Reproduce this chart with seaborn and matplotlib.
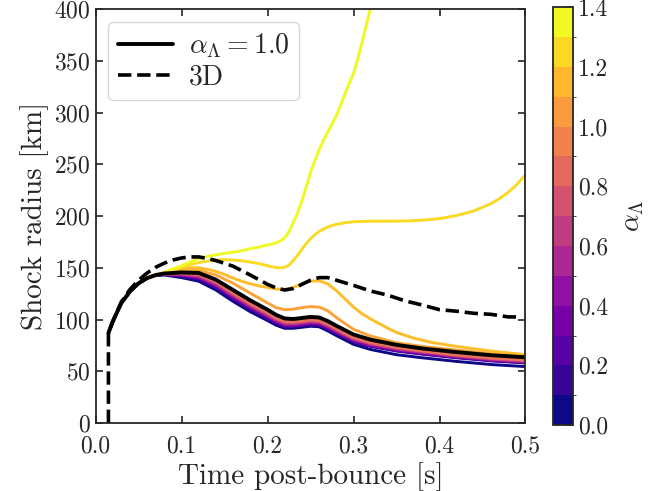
import numpy as np
import pandas as pd
import matplotlib
matplotlib.use('Agg')
import matplotlib.pyplot as plt
import seaborn as sns
from matplotlib.colors import ListedColormap, BoundaryNorm
from matplotlib.cm import ScalarMappable

#################### DATA ####################
# time grid [s] shared by most of the 1D runs
t_grid = [0.015, 0.02, 0.03, 0.04, 0.05, 0.06, 0.07, 0.08, 0.10, 0.12,
          0.14, 0.16, 0.18, 0.20, 0.21, 0.22, 0.23, 0.24, 0.25, 0.26,
          0.27, 0.28, 0.30, 0.32, 0.35, 0.38, 0.42, 0.46, 0.48, 0.50]

# shock radius [km] per alpha_Lambda
r_00 = [87, 98, 116, 127, 135, 140, 142.5, 143, 140.5, 137, 128.5, 117.5, 107.5, 99, 94.5, 91.5, 91.5, 92.5, 93.5, 93, 89, 84.5, 76, 71, 66, 63, 59.5, 56.5, 55.5, 54.5]
r_01 = [87, 98, 116, 127, 135, 140, 143, 143.5, 142, 139, 131, 120, 110, 101, 96.5, 93, 93, 94, 95, 94.5, 91, 86.5, 78.5, 74, 69.5, 66.5, 63, 60, 59, 58]
r_02 = [87, 98, 116, 127, 135, 140, 143, 143.5, 142.4, 139.6, 131.8, 120.8, 110.8, 101.8, 97.2, 93.7, 93.6, 94.6, 95.6, 95.1, 91.6, 87.1, 79.1, 74.5, 70, 66.9, 63.4, 60.4, 59.4, 58.4]
r_03 = [87, 98, 116, 127, 135, 140, 143, 143.5, 142.8, 140.3, 132.5, 121.5, 111.5, 102.5, 97.9, 94.4, 94.3, 95.3, 96.3, 95.8, 92.3, 87.8, 79.6, 75, 70.5, 67.4, 63.8, 60.8, 59.8, 58.8]
r_04 = [87, 98, 116, 127, 135, 140, 143, 144, 143.1, 140.9, 133.2, 122.3, 112.3, 103.3, 98.6, 95.1, 94.9, 95.9, 96.9, 96.4, 92.9, 88.4, 80.2, 75.5, 71, 67.8, 64.1, 61.1, 60.1, 59.1]
r_05 = [87, 98, 116, 127, 135, 140, 143, 144, 143.5, 141.5, 134, 123, 113, 104, 99.3, 95.8, 95.5, 96.5, 97.5, 97, 93.5, 89, 80.8, 76, 71.5, 68.3, 64.5, 61.5, 60.5, 59.5]
r_06 = [87, 98, 116, 127, 135, 140, 143, 144, 143.9, 142.1, 134.8, 123.8, 113.8, 104.8, 99.9, 96.4, 96.1, 97.1, 98.1, 97.6, 94.1, 89.6, 81.3, 76.5, 72, 68.7, 64.9, 61.9, 60.9, 59.9]
r_07 = [87, 98, 116, 127, 135, 140, 143, 144, 144.3, 142.8, 135.5, 124.5, 114.5, 105.5, 100.6, 97.1, 96.8, 97.8, 98.8, 98.3, 94.8, 90.3, 81.9, 77, 72.5, 69.1, 65.3, 62.3, 61.3, 60.3]
r_08 = [87, 98, 116, 127, 135, 140, 143, 144.5, 144.6, 143.4, 136.2, 125.3, 115.3, 106.3, 101.3, 97.8, 97.4, 98.4, 99.4, 98.9, 95.4, 90.9, 82.4, 77.5, 73, 69.6, 65.6, 62.6, 61.6, 60.6]
r_09 = [87, 98, 116, 127, 135, 140, 143, 144.5, 145, 144, 137, 126, 116, 107, 102, 98.5, 98, 99, 100, 99.5, 96, 91.5, 83, 78, 73.5, 70, 66, 63, 62, 61]
r_10 = [87, 98, 116, 127, 135, 140, 143, 144.5, 145.5, 145, 138.5, 128.5, 118.5, 109.5, 104.5, 101, 100.5, 101.5, 102.5, 102, 98.5, 94, 85.5, 80.5, 75.5, 72, 68.5, 65.5, 64.5, 63.5]
r_11 = [87, 98, 116, 127, 135, 140, 143, 145, 147, 147.5, 143, 135, 125.5, 116, 111.5, 109.5, 110, 111.5, 112.5, 112, 108.5, 102, 90.5, 84, 77.5, 74, 70.5, 67, 65.5, 64.5]

# the three runs that take off get their own, finer sampling
t_12 = [0.015, 0.02, 0.03, 0.04, 0.05, 0.06, 0.07, 0.08, 0.09, 0.10, 0.11, 0.12, 0.13, 0.14,
        0.15, 0.16, 0.17, 0.18, 0.19, 0.20, 0.21, 0.22, 0.23, 0.24, 0.25, 0.26, 0.27, 0.28,
        0.29, 0.30, 0.31, 0.32, 0.33, 0.34, 0.35, 0.37, 0.39, 0.42, 0.46, 0.50]
r_12 = [87, 98, 116, 127, 135, 140, 143, 145.5, 147.5, 149, 150, 150, 148.5, 146.5,
        143.5, 140, 137, 134.5, 132.5, 131, 129.5, 129, 131, 134.5, 137, 137.5, 134.5, 128,
        120, 112, 105.5, 100.5, 96, 91.5, 87.5, 82, 78, 74, 69.5, 66]

t_13 = [0.015, 0.02, 0.03, 0.04, 0.05, 0.06, 0.07, 0.08, 0.09, 0.10, 0.11, 0.12, 0.13, 0.14,
        0.15, 0.16, 0.17, 0.18, 0.19, 0.20, 0.205, 0.21, 0.215, 0.22, 0.225, 0.23, 0.235,
        0.24, 0.245, 0.25, 0.255, 0.26, 0.27, 0.28, 0.29, 0.30, 0.32, 0.34, 0.36, 0.38, 0.40,
        0.42, 0.44, 0.46, 0.47, 0.48, 0.49, 0.50]
r_13 = [87, 98, 116, 127, 135, 140, 143, 145, 148, 150.5, 153, 155, 156.5, 157.5,
        157.8, 157.5, 156.8, 155.5, 154, 152, 151, 150.3, 150, 150.5, 152.5, 157, 162,
        168, 173.5, 178, 182, 185, 189.5, 192, 193.5, 194.5, 195, 195, 195.2, 196, 197.5,
        200.5, 205, 212, 217, 223, 230.5, 240]

t_14 = [0.015, 0.02, 0.03, 0.04, 0.05, 0.06, 0.07, 0.08, 0.09, 0.10, 0.11, 0.12, 0.13, 0.14,
        0.15, 0.16, 0.17, 0.18, 0.19, 0.20, 0.205, 0.21, 0.215, 0.22, 0.225, 0.23, 0.235,
        0.24, 0.245, 0.25, 0.255, 0.26, 0.265, 0.27, 0.275, 0.28, 0.285, 0.29, 0.295, 0.30,
        0.305, 0.31, 0.315, 0.32, 0.325]
r_14 = [87, 98, 116, 127, 135, 140, 143, 145.5, 149, 152, 155.5, 159, 161, 162.5,
        164, 165, 166.5, 168.5, 170, 172, 173, 174, 176, 179, 185, 194, 203,
        215, 228, 242, 253.5, 264, 273, 281, 289, 297, 307, 318, 328, 338,
        352, 368, 385, 402, 420]

alphas = [0.0, 0.1, 0.2, 0.3, 0.4, 0.5, 0.6, 0.7, 0.8, 0.9, 1.1, 1.2, 1.3, 1.4]
times = [t_grid] * 11 + [t_12, t_13, t_14]
radii = [r_00, r_01, r_02, r_03, r_04, r_05, r_06, r_07, r_08, r_09, r_11, r_12, r_13, r_14]

# 3D run
t_3d = [0.015, 0.015, 0.02, 0.03, 0.04, 0.05, 0.06, 0.07, 0.08, 0.09, 0.10, 0.11, 0.12, 0.13,
        0.14, 0.16, 0.18, 0.20, 0.21, 0.22, 0.23, 0.24, 0.25, 0.26, 0.27, 0.28, 0.29, 0.30,
        0.32, 0.34, 0.36, 0.38, 0.40, 0.42, 0.44, 0.46, 0.48, 0.49]
r_3d = [0, 87, 98, 117, 129, 138, 145, 150.5, 154.5, 157.5, 159.5, 160.5, 160.5, 159,
        157, 151.5, 143, 134, 130.5, 128.5, 130, 134, 138, 140.5, 140.5, 138, 135.5, 133,
        127.5, 123.5, 118, 114, 109.5, 108, 106, 105, 102.5, 102.5]

cbar_ticks = [0.0, 0.2, 0.4, 0.6, 0.8, 1.0, 1.2, 1.4]

#################### STYLE ####################
sns.set_style('ticks')
plt.rcParams['font.family'] = 'serif'
plt.rcParams['font.serif'] = ['cmr10']
plt.rcParams['mathtext.fontset'] = 'cm'
plt.rcParams['axes.formatter.use_mathtext'] = True
plt.rcParams['axes.unicode_minus'] = False

#################### PLOT ####################
fig = plt.figure(figsize=(6.62, 4.91), dpi=100)
ax = fig.add_axes([0.1443, 0.1385, 0.6495, 0.843])
cax = fig.add_axes([0.835, 0.1344, 0.0311, 0.8507])

rows = []
for a, tt, rr in zip(alphas, times, radii):
    for t, r in zip(tt, rr):
        rows.append((t, r, a))
df = pd.DataFrame(rows, columns=['t', 'r', 'alpha'])

cmap = plt.get_cmap('plasma')
for a in alphas:
    sub = df[df['alpha'] == a]
    sns.lineplot(data=sub, x='t', y='r', color=cmap(a / 1.4), lw=2.1,
                 estimator=None, sort=False, ax=ax)

sns.lineplot(x=t_grid, y=r_10, color='k', lw=2.8, estimator=None, sort=False,
             label=r'$\alpha_\Lambda = 1.0$', ax=ax)
sns.lineplot(x=t_3d, y=r_3d, color='k', lw=2.6, ls='--', estimator=None, sort=False,
             label='3D', ax=ax)

ax.set_xlim(0, 0.5)
ax.set_ylim(0, 400)
ax.set_xticks([0.0, 0.1, 0.2, 0.3, 0.4, 0.5])
ax.set_xticklabels(['0.0', '0.1', '0.2', '0.3', '0.4', '0.5'])
ax.set_yticks(np.arange(0, 401, 50))
ax.set_xlabel('Time post-bounce [s]', fontsize=21, labelpad=3)
ax.set_ylabel('Shock radius [km]', fontsize=21)
ax.tick_params(direction='in', top=True, right=True, length=5, width=1.2, labelsize=17)
ax.tick_params(axis='x', pad=9)
for s in ax.spines.values():
    s.set_linewidth(1.3)

ax.legend(loc='upper left', fontsize=20, handlelength=2.0, handletextpad=0.55,
          labelspacing=0.15, borderpad=0.35, borderaxespad=0.45)

# discrete colorbar
bounds = np.round(np.arange(0, 1.45, 0.1), 1)
cb_cmap = ListedColormap(cmap(np.linspace(0, 1, len(bounds) - 1)))
norm = BoundaryNorm(bounds, cb_cmap.N)
sm = ScalarMappable(norm=norm, cmap=cb_cmap)
cb = fig.colorbar(sm, cax=cax, ticks=cbar_ticks)
cb.ax.set_yticklabels(['%.1f' % v for v in cbar_ticks])
cb.ax.tick_params(direction='in', length=6, width=1.2, labelsize=17)
cb.outline.set_linewidth(1.3)
cb.set_label(r'$\alpha_\Lambda$', fontsize=20, labelpad=8)

fig.savefig('out.png', dpi=100)
